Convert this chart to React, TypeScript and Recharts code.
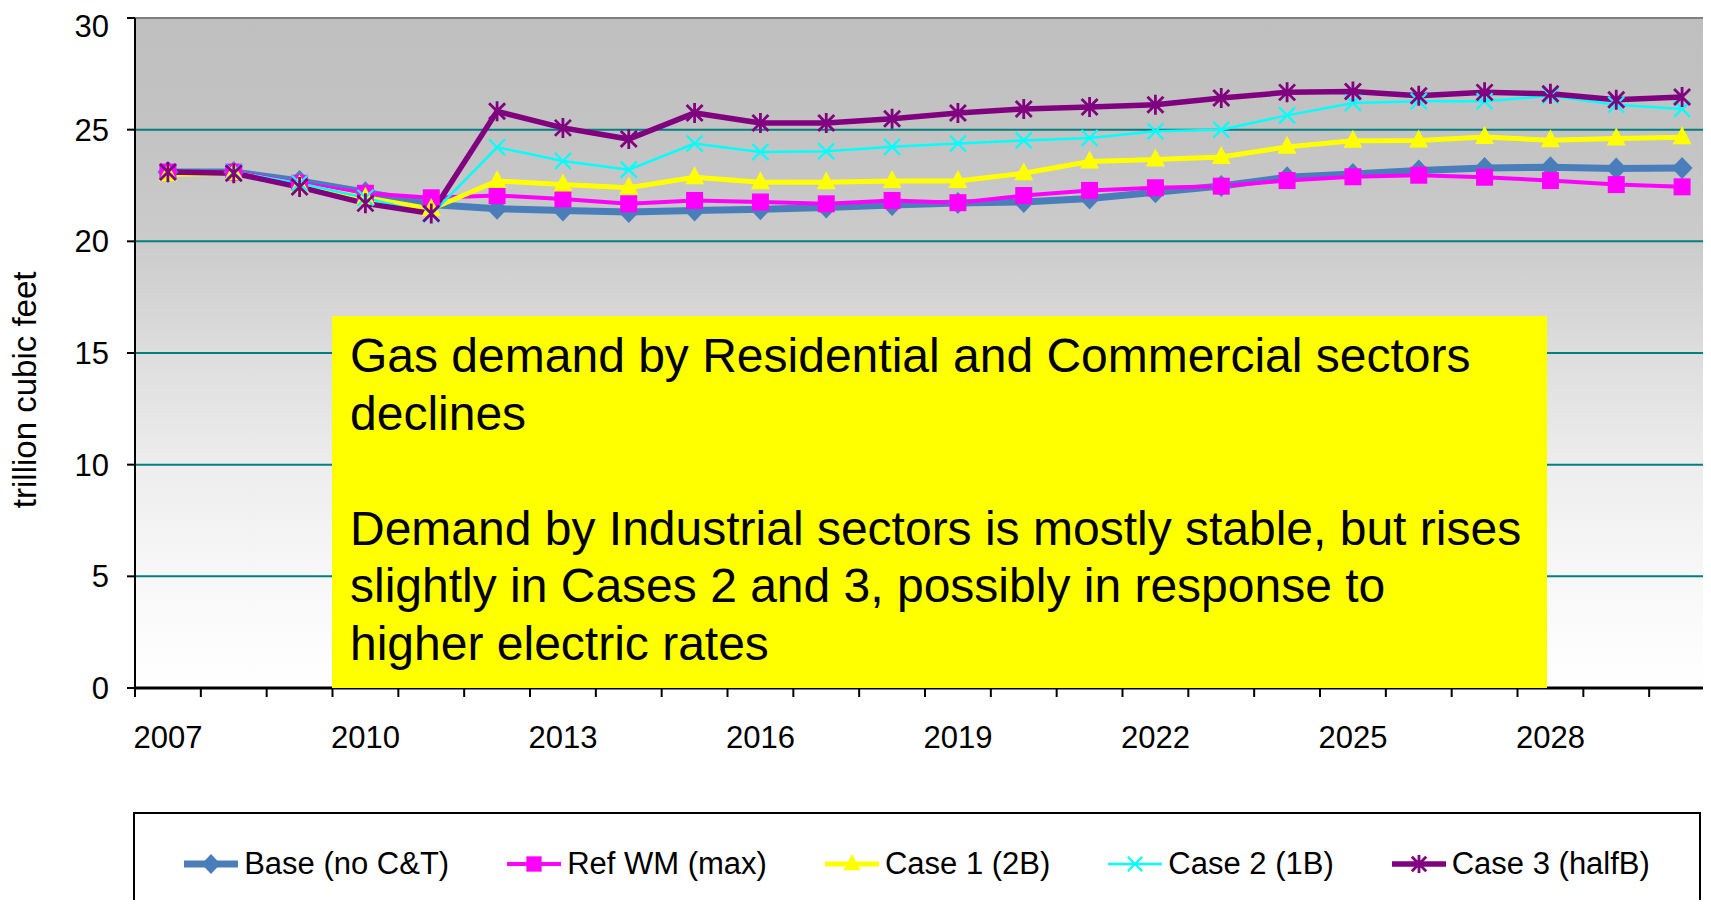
import React from "react";
import { LineChart, Line, XAxis, YAxis, CartesianGrid, Legend } from "recharts";

// years on the category axis
const years = [
  "2007", "2008", "2009", "2010", "2011", "2012", "2013", "2014",
  "2015", "2016", "2017", "2018", "2019", "2020", "2021", "2022",
  "2023", "2024", "2025", "2026", "2027", "2028", "2029", "2030",
];
const yearLabels = ["2007", "2010", "2013", "2016", "2019", "2022", "2025", "2028"];
const yTicks = [0, 5, 10, 15, 20, 25, 30];

// trillion cubic feet
const baseNoCT = [
  23.1, 23.1, 22.7, 22.2, 21.65, 21.46, 21.38, 21.31, 21.38, 21.44, 21.52, 21.63,
  21.72, 21.76, 21.92, 22.2, 22.48, 22.87, 23.02, 23.17, 23.28, 23.32, 23.26, 23.28,
];
const refWM = [
  23.1, 23.1, 22.6, 22.15, 21.95, 22.05, 21.9, 21.68, 21.83, 21.76, 21.68, 21.83,
  21.73, 22.05, 22.28, 22.4, 22.47, 22.72, 22.89, 22.96, 22.87, 22.72, 22.54, 22.44,
];
const case1 = [
  23.0, 23.05, 22.5, 21.95, 21.45, 22.7, 22.55, 22.4, 22.87, 22.65, 22.65, 22.7,
  22.7, 23.05, 23.57, 23.66, 23.78, 24.23, 24.5, 24.52, 24.67, 24.53, 24.6, 24.66,
];
const case2 = [
  23.1, 23.1, 22.6, 21.95, 21.2, 24.21, 23.6, 23.21, 24.38, 24.0, 24.03, 24.23,
  24.38, 24.52, 24.63, 24.93, 25.0, 25.64, 26.19, 26.27, 26.27, 26.52, 26.12, 25.93,
];
const case3 = [
  23.1, 23.05, 22.43, 21.7, 21.25, 25.82, 25.08, 24.58, 25.75, 25.3, 25.3, 25.49,
  25.75, 25.93, 26.01, 26.12, 26.42, 26.67, 26.71, 26.52, 26.67, 26.61, 26.34, 26.46,
];

const data = years.map((year, i) => ({
  year,
  base: baseNoCT[i],
  ref: refWM[i],
  case1: case1[i],
  case2: case2[i],
  case3: case3[i],
}));

const series = [
  { key: "base", name: "Base (no C&T)", color: "#4a7ebb", width: 7, shape: "diamond" },
  { key: "ref", name: "Ref WM (max)", color: "#ff00ff", width: 4, shape: "square" },
  { key: "case1", name: "Case 1 (2B)", color: "#ffff00", width: 5, shape: "triangle" },
  { key: "case2", name: "Case 2 (1B)", color: "#00ffff", width: 2.5, shape: "x" },
  { key: "case3", name: "Case 3 (halfB)", color: "#800080", width: 5.5, shape: "star" },
];

const FONT = '"Liberation Sans", Arial, sans-serif';
const PLOT_TOP = 10;
const PLOT_BOTTOM = 680;

function Marker({ shape, cx, cy, color, k = 1 }: any) {
  if (cx == null || cy == null) return null;
  switch (shape) {
    case "diamond":
      return (
        <polygon
          points={`${cx},${cy - 11 * k} ${cx + 10.5 * k},${cy} ${cx},${cy + 11 * k} ${cx - 10.5 * k},${cy}`}
          fill={color}
        />
      );
    case "square":
      return <rect x={cx - 8.5 * k} y={cy - 8.5 * k} width={17 * k} height={17 * k} fill={color} />;
    case "triangle":
      return (
        <polygon
          points={`${cx},${cy - 11 * k} ${cx + 9.5 * k},${cy + 7 * k} ${cx - 9.5 * k},${cy + 7 * k}`}
          fill={color}
        />
      );
    case "x":
      return (
        <path
          d={`M${cx - 8 * k},${cy - 8 * k}L${cx + 8 * k},${cy + 8 * k}M${cx - 8 * k},${cy + 8 * k}L${cx + 8 * k},${cy - 8 * k}`}
          stroke={color}
          strokeWidth={2.2}
          fill="none"
        />
      );
    default:
      return (
        <path
          d={`M${cx - 8 * k},${cy - 8 * k}L${cx + 8 * k},${cy + 8 * k}M${cx - 8 * k},${cy + 8 * k}L${cx + 8 * k},${cy - 8 * k}M${cx},${cy - 10 * k}L${cx},${cy + 10 * k}`}
          stroke={color}
          strokeWidth={2.8}
          fill="none"
        />
      );
  }
}

function YearTick(props: any) {
  const { x, y, payload } = props;
  const half = payload && typeof payload.offset === "number" && payload.offset > 0 ? payload.offset : 32.9;
  const showLabel = yearLabels.includes(String(payload.value));
  return (
    <g>
      <line x1={x - half} x2={x - half} y1={y} y2={y + 9} stroke="#000" strokeWidth={2} />
      {showLabel && (
        <text
          x={x}
          y={y + 49}
          textAnchor="middle"
          dominantBaseline="central"
          fontSize={31}
          fontFamily={FONT}
          fill="#000"
        >
          {payload.value}
        </text>
      )}
    </g>
  );
}

function gridLine(p: any) {
  const { x1, x2, y1, y2 } = p;
  if (y1 > PLOT_BOTTOM - 2) return <g key={`h-${y1}`} />;
  const top = y1 < PLOT_TOP + 2;
  return (
    <line
      key={`h-${y1}`}
      x1={x1}
      x2={x2}
      y1={y1}
      y2={y2}
      stroke={top ? "#808080" : "#008080"}
      strokeWidth={2}
    />
  );
}

function yLabel(props: any) {
  const vb = props.viewBox || { x: 0, y: PLOT_TOP, height: PLOT_BOTTOM - PLOT_TOP };
  const cx = vb.x + 17;
  const cy = vb.y + vb.height * 0.555;
  return (
    <text
      x={cx}
      y={cy}
      transform={`rotate(-90, ${cx}, ${cy})`}
      textAnchor="middle"
      dominantBaseline="central"
      fontSize={33}
      fontFamily={FONT}
      fill="#000"
    >
      trillion cubic feet
    </text>
  );
}

function LegendBox(props: any) {
  const items = [...(props.payload ?? [])].sort(
    (a: any, b: any) =>
      series.findIndex((s) => s.key === a.dataKey) - series.findIndex((s) => s.key === b.dataKey)
  );
  return (
    <div
      style={{
        boxSizing: "border-box",
        width: 1568,
        height: 120,
        border: "2px solid #000",
        borderBottom: "none",
        background: "#fff",
        display: "flex",
        justifyContent: "center",
        alignItems: "flex-start",
        paddingTop: 32,
        gap: 58,
        fontFamily: FONT,
      }}
    >
      {items.map((entry: any) => {
        const s = series.find((x) => x.key === entry.dataKey) ?? series[0];
        return (
          <div key={s.key} style={{ display: "flex", alignItems: "center", gap: 6 }}>
            <svg width={54} height={30}>
              <line x1={0} x2={54} y1={15} y2={15} stroke={s.color} strokeWidth={s.width} />
              <Marker shape={s.shape} cx={27} cy={15} color={s.color} k={0.9} />
            </svg>
            <span style={{ fontSize: 31, lineHeight: "36px", whiteSpace: "nowrap", color: "#000" }}>
              {s.name}
            </span>
          </div>
        );
      })}
    </div>
  );
}

const noteLines = [
  "Gas demand by Residential and Commercial sectors",
  "declines",
  " ",
  "Demand by Industrial sectors is mostly stable, but rises",
  "slightly in Cases 2 and 3, possibly in response to",
  "higher electric rates",
];

export default function App() {
  return (
    <div
      style={{
        position: "relative",
        width: 1703,
        height: 900,
        marginBottom: -8,
        overflow: "hidden",
        background: "#fff",
        fontFamily: FONT,
      }}
    >
      <LineChart
        width={1712}
        height={900}
        data={data}
        margin={{ top: PLOT_TOP, right: 5, left: 0, bottom: 160 }}
      >
        <defs>
          <linearGradient id="plotBg" x1="0" y1="0" x2="0" y2="1">
            <stop offset="0" stopColor="#bfbfbf" />
            <stop offset="0.17" stopColor="#c3c3c3" />
            <stop offset="0.33" stopColor="#cbcbcb" />
            <stop offset="0.5" stopColor="#dddddd" />
            <stop offset="0.67" stopColor="#ededed" />
            <stop offset="0.83" stopColor="#f7f7f7" />
            <stop offset="1" stopColor="#ffffff" />
          </linearGradient>
        </defs>
        <CartesianGrid
          vertical={false}
          horizontal={gridLine}
          fill="url(#plotBg)"
          fillOpacity={1}
        />
        <XAxis
          dataKey="year"
          scale="band"
          interval={0}
          height={60}
          tickSize={0}
          tickMargin={0}
          tickLine={false}
          tick={<YearTick />}
          axisLine={{ stroke: "#000", strokeWidth: 3 }}
        />
        <YAxis
          type="number"
          domain={[0, 30]}
          ticks={yTicks}
          width={127}
          tickSize={8}
          tickMargin={18}
          tick={{ fontSize: 31, fill: "#000", fontFamily: FONT }}
          tickLine={{ stroke: "#000", strokeWidth: 2 }}
          axisLine={{ stroke: "#000", strokeWidth: 2 }}
          label={yLabel}
        />
        {series.map((s) => (
          <Line
            key={s.key}
            type="linear"
            dataKey={s.key}
            name={s.name}
            stroke={s.color}
            strokeWidth={s.width}
            isAnimationActive={false}
            activeDot={false}
            dot={(p: any) => (
              <g key={`${s.key}-${p.index}`}>
                <Marker shape={s.shape} cx={p.cx} cy={p.cy} color={s.color} />
              </g>
            )}
          />
        ))}
        <Legend
          content={<LegendBox />}
          wrapperStyle={{ left: 125, top: 804, width: 1568, height: 0 }}
        />
      </LineChart>
      <div
        style={{
          position: "absolute",
          left: 324,
          top: 308,
          width: 1215,
          height: 372,
          boxSizing: "border-box",
          background: "#ffff00",
          paddingTop: 11,
          paddingLeft: 18,
          fontSize: 48,
          lineHeight: "57.6px",
          color: "#000",
        }}
      >
        {noteLines.map((line, i) => (
          <div key={i} style={{ whiteSpace: "pre" }}>
            {line}
          </div>
        ))}
      </div>
    </div>
  );
}
